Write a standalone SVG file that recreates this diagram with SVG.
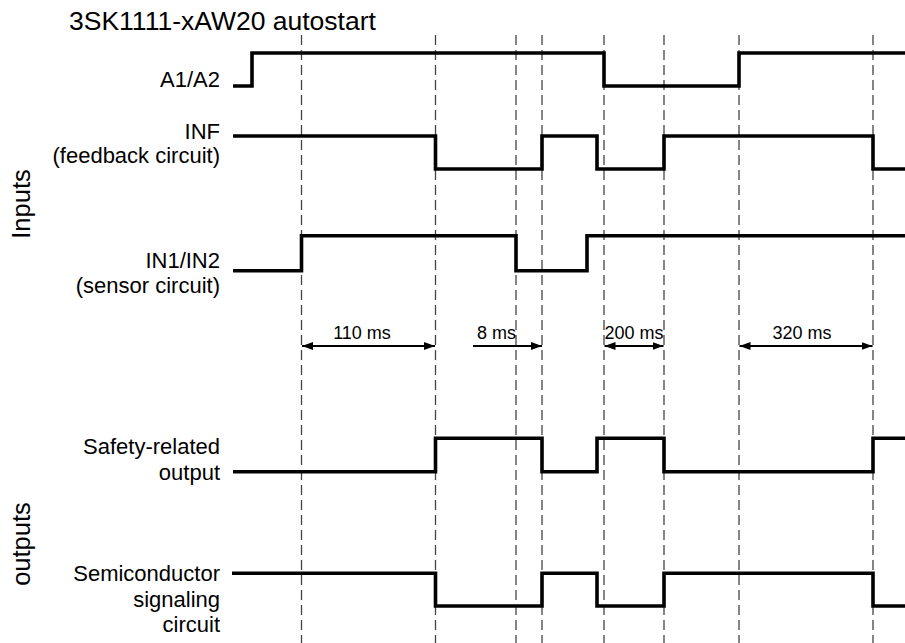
<svg xmlns="http://www.w3.org/2000/svg" width="905" height="643" viewBox="0 0 905 643">
<style>
text{font-family:"Liberation Sans",Arial,sans-serif;fill:#000}
.lbl{font-size:22px;text-anchor:end}
.dim{font-size:18px}
.sig{fill:none;stroke:#000;stroke-width:3.6;stroke-linejoin:miter}
.grid{stroke:#444;stroke-width:1.3;stroke-dasharray:10 5;fill:none}
.arr{stroke:#000;stroke-width:1.8;fill:none}
</style>
<defs>
<marker id="ah" markerUnits="userSpaceOnUse" markerWidth="12" markerHeight="10" viewBox="0 0 12 10" refX="11" refY="5" orient="auto-start-reverse">
<path d="M0,1 L11,5 L0,9 Z" fill="#000"/>
</marker>
</defs>
<rect width="905" height="643" fill="#fff"/>
<text x="69" y="30" font-size="26.5">3SK1111-xAW20 autostart</text>
<text transform="translate(30,204) rotate(-90)" font-size="25.5" text-anchor="middle">Inputs</text>
<text transform="translate(30,544) rotate(-90)" font-size="25.5" text-anchor="middle">outputs</text>
<g id="connectors">
<g id="gridlines" class="grid">
<line x1="301.5" y1="35" x2="301.5" y2="643"/>
<line x1="435.5" y1="35" x2="435.5" y2="643"/>
<line x1="516" y1="35" x2="516" y2="643"/>
<line x1="542" y1="35" x2="542" y2="643"/>
<line x1="604" y1="35" x2="604" y2="643"/>
<line x1="664" y1="35" x2="664" y2="643"/>
<line x1="739" y1="35" x2="739" y2="643"/>
<line x1="873" y1="35" x2="873" y2="643"/>
</g>
<g id="dimensions">
<line class="arr" x1="302" y1="346" x2="435" y2="346" marker-start="url(#ah)" marker-end="url(#ah)"/>
<text class="dim" x="362" y="339" text-anchor="middle">110 ms</text>
<line class="arr" x1="473" y1="346" x2="542" y2="346" marker-end="url(#ah)"/>
<text class="dim" x="477" y="339">8 ms</text>
<line class="arr" x1="604.5" y1="346" x2="663.5" y2="346" marker-start="url(#ah)" marker-end="url(#ah)"/>
<text class="dim" x="634" y="339" text-anchor="middle">200 ms</text>
<line class="arr" x1="739.5" y1="346" x2="872.5" y2="346" marker-start="url(#ah)" marker-end="url(#ah)"/>
<text class="dim" x="802" y="339" text-anchor="middle">320 ms</text>
</g>
</g>
<g id="a1a2">
<text class="lbl" x="220" y="87">A1/A2</text>
<polyline class="sig" points="233,86 252,86 252,53 604,53 604,86 739,86 739,53 905,53"/>
</g>
<g id="inf">
<text class="lbl" x="220" y="139">INF</text>
<text class="lbl" x="220" y="163">(feedback circuit)</text>
<polyline class="sig" points="233,136 435.5,136 435.5,169 542,169 542,136 597,136 597,169 664,169 664,136 873,136 873,169 905,169"/>
</g>
<g id="in1in2">
<text class="lbl" x="220" y="268">IN1/IN2</text>
<text class="lbl" x="220" y="293">(sensor circuit)</text>
<polyline class="sig" points="233,270.7 301.5,270.7 301.5,235.7 516,235.7 516,270.7 587,270.7 587,235.7 905,235.7"/>
</g>
<g id="safety">
<text class="lbl" x="220" y="454">Safety-related</text>
<text class="lbl" x="220" y="480">output</text>
<polyline class="sig" points="233,471.7 435.5,471.7 435.5,438.3 542,438.3 542,471.7 597,471.7 597,438.3 664,438.3 664,471.7 873,471.7 873,438.3 905,438.3"/>
</g>
<g id="semiconductor">
<text class="lbl" x="220" y="581">Semiconductor</text>
<text class="lbl" x="220" y="607">signaling</text>
<text class="lbl" x="220" y="632">circuit</text>
<polyline class="sig" points="232,573.3 435.5,573.3 435.5,606 542,606 542,573.3 597,573.3 597,606 664,606 664,573.3 873,573.3 873,606 905,606"/>
</g>
</svg>
